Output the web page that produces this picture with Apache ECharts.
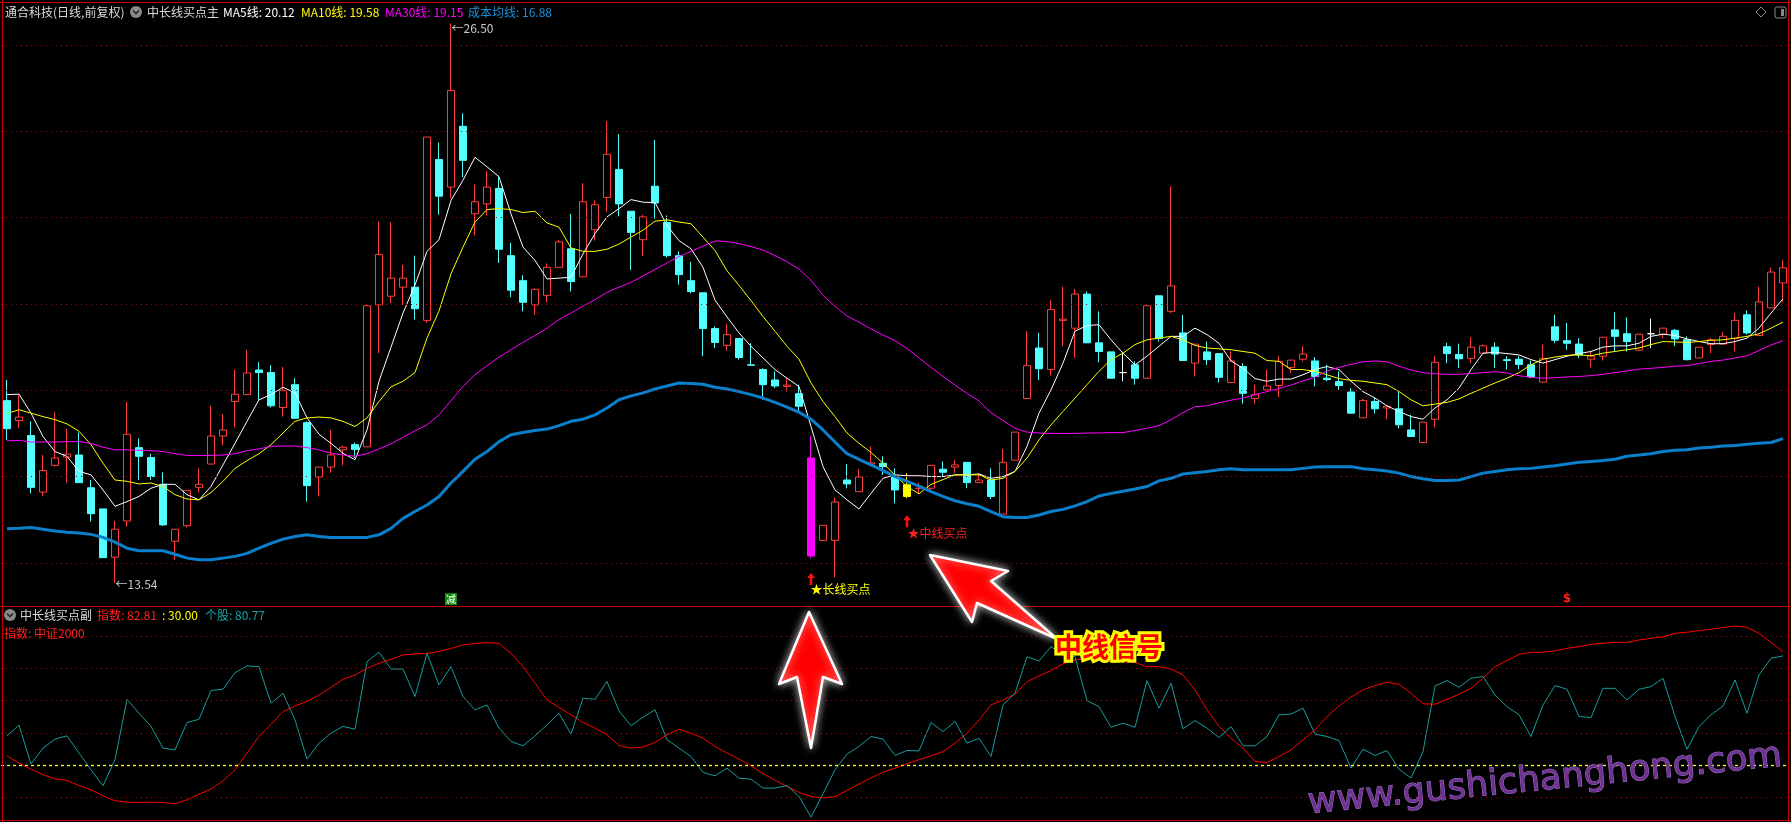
<!DOCTYPE html>
<html><head><meta charset="utf-8">
<script src="https://cdn.jsdelivr.net/npm/echarts@6/dist/echarts.min.js"></script>
<style>html,body{margin:0;padding:0;background:#000;overflow:hidden}#c{width:1791px;height:822px}</style>
</head><body><div id="c"></div><script>
const categories = ["1","2","3","4","5","6","7","8","9","10","11","12","13","14","15","16","17","18","19","20","21","22","23","24","25","26","27","28","29","30","31","32","33","34","35","36","37","38","39","40","41","42","43","44","45","46","47","48","49","50","51","52","53","54","55","56","57","58","59","60","61","62","63","64","65","66","67","68","69","70","71","72","73","74","75","76","77","78","79","80","81","82","83","84","85","86","87","88","89","90","91","92","93","94","95","96","97","98","99","100","101","102","103","104","105","106","107","108","109","110","111","112","113","114","115","116","117","118","119","120","121","122","123","124","125","126","127","128","129","130","131","132","133","134","135","136","137","138","139","140","141","142","143","144","145","146","147","148","149"];

const open = [
17.76,17.30,16.95,15.64,16.26,16.45,16.50,15.74,15.25,14.13,
14.97,16.67,16.44,15.82,14.50,14.86,15.75,16.29,16.94,17.74,
17.90,18.47,18.41,17.60,18.13,17.25,15.99,16.22,16.62,16.74,
16.69,19.98,20.18,20.39,20.39,19.62,23.35,22.71,24.12,22.09,
22.32,22.68,21.12,20.54,19.98,20.20,20.85,21.28,20.63,21.72,
22.47,23.12,22.15,21.49,22.73,21.89,21.12,20.54,20.26,19.43,
19.04,19.20,18.59,18.48,18.24,18.09,17.92,16.43,14.52,14.52,
15.92,15.65,16.29,16.31,16.00,15.81,15.72,15.73,16.17,16.22,
16.33,15.86,15.92,15.13,16.38,17.81,18.98,18.48,19.62,19.44,
20.23,19.10,18.89,18.41,18.59,18.28,20.19,19.83,19.33,18.63,
18.89,18.85,18.18,18.55,17.81,18.01,18.11,18.53,18.72,18.68,
18.28,18.20,17.96,17.36,17.74,17.59,17.57,17.08,16.79,17.33,
19.01,18.83,18.74,18.86,19.00,18.71,18.72,18.59,18.19,19.47,
19.15,19.07,18.72,18.79,19.40,19.31,18.93,19.31,19.30,19.39,
19.17,18.75,19.06,19.07,19.20,19.75,19.27,19.91,20.49];

const close = [
17.11,17.38,15.75,16.14,16.43,16.52,15.86,15.14,14.12,14.78,
16.98,16.47,16.00,14.88,14.78,15.68,15.82,16.94,17.08,17.91,
18.40,18.41,17.64,18.00,17.35,15.79,16.22,16.50,16.68,16.63,
19.96,21.15,20.60,20.60,19.89,23.87,22.50,24.95,23.33,22.37,
22.71,21.27,20.32,20.04,20.34,20.85,21.44,20.52,22.37,22.30,
23.47,22.32,21.66,22.02,22.34,21.12,20.68,20.29,19.43,19.11,
19.29,18.76,18.58,18.13,18.10,18.12,17.63,14.16,14.87,15.41,
15.83,15.99,16.32,16.23,15.69,15.54,15.73,16.26,16.10,16.27,
15.86,15.92,15.54,16.33,17.03,18.57,18.50,19.87,19.65,20.23,
19.10,18.90,18.28,18.41,18.28,19.96,19.20,20.42,18.69,19.07,
18.71,18.30,18.68,17.93,17.90,18.10,18.67,18.70,18.84,18.32,
18.25,18.11,17.47,17.76,17.57,17.63,17.20,16.93,17.26,18.65,
18.85,18.73,19.00,19.03,18.84,18.69,18.60,18.31,18.74,19.16,
19.09,18.82,18.79,19.23,19.25,19.13,19.30,19.31,19.44,19.19,
18.71,19.00,19.17,19.25,19.62,19.33,20.05,20.74,20.84];

const low = [
16.85,17.12,15.61,15.54,16.23,15.86,15.86,14.96,14.12,13.54,
14.84,15.92,15.92,14.86,14.07,14.82,15.63,16.29,16.72,17.14,
17.90,17.78,17.60,17.39,17.35,15.42,15.54,16.09,16.26,16.43,
16.69,18.86,20.02,19.98,19.64,19.56,22.07,22.45,22.94,21.59,
22.05,20.95,20.16,19.83,19.75,20.04,20.85,20.29,20.63,21.47,
22.13,22.03,20.79,21.11,21.98,21.08,20.45,20.25,18.79,18.98,
18.92,18.71,18.58,17.78,18.05,17.97,17.51,14.11,14.52,13.66,
15.73,15.65,16.27,16.04,15.38,15.50,15.61,15.65,16.00,16.08,
15.73,15.85,15.48,15.13,16.38,17.81,18.24,18.34,19.02,18.75,
19.10,18.65,18.28,18.21,18.13,18.28,19.13,19.79,18.69,18.32,
18.59,18.18,18.18,17.69,17.69,18.01,17.84,18.40,18.67,18.09,
18.21,18.01,17.46,17.36,17.46,17.33,17.12,16.93,16.79,17.14,
18.63,18.52,18.63,18.86,18.52,18.48,18.49,18.28,18.19,19.09,
18.94,18.75,18.53,18.69,18.90,18.90,18.93,18.98,19.21,19.02,
18.69,18.75,18.86,19.07,18.90,19.29,19.25,19.90,20.05];

const high = [
18.24,17.90,17.28,16.50,17.49,17.11,17.02,15.92,15.25,14.97,
17.73,16.88,16.53,16.10,14.78,15.69,16.19,17.64,17.45,18.48,
18.94,18.65,18.58,18.54,18.28,17.28,16.22,17.08,16.72,16.79,
19.96,21.91,21.90,20.91,21.12,23.87,23.74,26.50,24.42,22.77,
23.08,22.95,21.42,20.67,20.36,20.94,21.49,22.09,22.80,22.40,
24.24,23.94,22.15,22.07,23.80,22.05,21.22,20.98,20.26,19.48,
19.54,19.20,19.09,18.51,18.44,18.28,18.13,16.95,14.87,15.52,
16.29,16.17,16.70,16.47,16.19,16.08,15.86,16.26,16.35,16.39,
16.33,16.08,16.19,16.64,17.03,19.37,19.33,20.10,20.40,20.35,
20.29,19.83,18.89,18.86,18.67,19.96,20.19,22.73,19.75,19.07,
19.13,18.85,18.90,18.63,18.13,18.48,18.79,18.70,19.02,18.77,
18.59,18.44,18.05,17.80,17.82,17.63,17.97,17.43,17.26,18.80,
19.10,19.08,19.23,19.06,19.11,18.79,18.79,18.69,19.06,19.75,
19.56,19.21,18.90,19.23,19.81,19.69,19.30,19.66,19.44,19.42,
19.25,19.00,19.21,19.35,19.79,19.85,20.40,20.85,21.02];

const ma5 = [
17.90,17.91,17.47,16.93,16.58,16.47,16.12,16.04,15.69,15.31,
15.42,15.54,15.73,15.82,15.82,15.58,15.46,15.77,16.27,16.77,
17.28,17.78,17.90,18.07,17.94,17.36,16.98,16.77,16.54,16.39,
17.08,18.21,19.00,19.79,20.44,21.22,21.49,22.40,22.87,23.40,
23.18,22.95,22.09,21.32,21.01,20.58,20.60,20.62,21.16,21.63,
22.02,22.21,22.42,22.36,22.35,21.82,21.47,21.28,20.85,20.09,
19.70,19.33,19.02,18.75,18.48,18.28,18.09,17.16,16.23,15.69,
15.46,15.25,15.61,15.96,16.04,16.02,16.02,16.00,16.00,16.04,
16.04,16.06,15.96,16.00,16.12,16.70,17.47,18.01,18.63,19.37,
19.50,19.52,19.17,18.86,18.59,18.79,19.02,19.25,19.25,19.44,
19.29,19.09,18.68,18.51,18.27,18.21,18.26,18.26,18.36,18.48,
18.55,18.48,18.21,17.97,17.82,17.64,17.51,17.39,17.33,17.59,
17.78,18.05,18.48,18.86,18.88,18.85,18.82,18.71,18.63,18.71,
18.79,18.85,18.90,19.00,19.03,19.03,19.09,19.25,19.30,19.27,
19.19,19.13,19.08,19.08,19.13,19.21,19.44,19.79,20.12];

const ma10 = [
17.46,17.55,17.47,17.39,17.32,17.22,17.05,16.74,16.31,15.92,
15.89,15.83,15.85,15.77,15.58,15.48,15.46,15.63,15.89,16.19,
16.37,16.53,16.74,17.01,17.28,17.36,17.38,17.36,17.28,17.16,
17.36,17.74,18.08,18.21,18.41,19.21,19.84,20.70,21.32,21.90,
22.19,22.21,22.19,22.12,22.15,21.88,21.78,21.30,21.22,21.22,
21.27,21.39,21.55,21.71,21.92,21.95,21.90,21.86,21.55,21.24,
20.77,20.43,20.08,19.71,19.37,19.02,18.72,18.17,17.74,17.39,
17.01,16.77,16.56,16.31,16.03,15.77,15.60,15.82,15.93,16.04,
16.04,16.04,15.92,15.96,16.12,16.43,16.85,17.20,17.51,17.82,
18.13,18.44,18.71,18.86,19.06,19.17,19.21,19.25,19.17,19.04,
18.98,18.96,18.94,18.90,18.86,18.69,18.67,18.48,18.48,18.44,
18.36,18.27,18.23,18.21,18.17,18.13,17.97,17.78,17.64,17.68,
17.72,17.80,17.93,18.05,18.17,18.28,18.41,18.59,18.72,18.77,
18.81,18.82,18.80,18.86,18.90,18.94,18.98,19.06,19.13,19.12,
19.11,19.13,19.16,19.17,19.21,19.25,19.31,19.44,19.58];

const ma30 = [
16.83,16.84,16.80,16.80,16.80,16.81,16.81,16.77,16.68,16.62,
16.62,16.61,16.60,16.58,16.53,16.49,16.49,16.49,16.50,16.53,
16.60,16.64,16.70,16.71,16.71,16.67,16.62,16.54,16.50,16.47,
16.53,16.64,16.76,16.91,17.06,17.20,17.43,17.76,18.09,18.36,
18.57,18.77,18.94,19.11,19.27,19.44,19.64,19.79,19.95,20.10,
20.27,20.39,20.50,20.65,20.80,20.95,21.10,21.22,21.34,21.46,
21.45,21.40,21.33,21.25,21.12,20.98,20.81,20.55,20.20,19.95,
19.72,19.58,19.42,19.28,19.15,18.97,18.75,18.53,18.32,18.12,
17.93,17.75,17.48,17.30,17.12,17.03,17.01,17.00,17.00,17.00,
17.01,17.01,17.02,17.02,17.07,17.12,17.18,17.32,17.48,17.62,
17.64,17.71,17.77,17.82,17.90,17.97,18.04,18.12,18.22,18.30,
18.45,18.53,18.60,18.66,18.68,18.66,18.56,18.47,18.41,18.38,
18.37,18.37,18.39,18.41,18.43,18.40,18.34,18.30,18.28,18.29,
18.31,18.32,18.34,18.37,18.41,18.45,18.49,18.51,18.53,18.56,
18.57,18.62,18.67,18.70,18.75,18.80,18.92,19.05,19.15];

const costLine = [
14.79,14.80,14.82,14.78,14.74,14.71,14.69,14.66,14.59,14.48,
14.34,14.28,14.28,14.28,14.20,14.11,14.07,14.07,14.11,14.15,
14.22,14.34,14.45,14.55,14.61,14.65,14.61,14.59,14.59,14.59,
14.59,14.65,14.80,15.03,15.19,15.34,15.54,15.85,16.12,16.40,
16.58,16.81,16.97,17.02,17.07,17.10,17.18,17.28,17.33,17.43,
17.59,17.78,17.87,17.94,18.03,18.10,18.17,18.16,18.14,18.07,
18.03,17.97,17.90,17.82,17.72,17.61,17.49,17.33,17.08,16.80,
16.53,16.40,16.27,16.14,16.00,15.89,15.78,15.65,15.54,15.44,
15.37,15.31,15.19,15.07,15.05,15.05,15.11,15.19,15.24,15.32,
15.42,15.55,15.61,15.66,15.71,15.77,15.90,15.96,16.06,16.09,
16.12,16.16,16.18,16.16,16.16,16.16,16.16,16.16,16.19,16.22,
16.23,16.23,16.23,16.18,16.16,16.13,16.08,16.00,15.95,15.91,
15.91,15.92,16.00,16.08,16.12,16.16,16.18,16.19,16.22,16.25,
16.29,16.33,16.35,16.37,16.40,16.47,16.50,16.53,16.58,16.61,
16.62,16.66,16.68,16.71,16.72,16.75,16.77,16.79,16.88];

const indexLine = [
34.3,30.9,28.1,25.5,23.6,22.9,20.5,18.5,15.7,13.4,
12.8,12.6,12.8,12.6,12.0,13.9,16.5,18.8,22.7,27.8,
35.6,43.3,49.0,54.9,57.5,59.6,62.6,66.2,69.9,71.9,
75.0,77.4,79.2,81.2,81.7,82.0,82.8,84.3,85.9,86.6,
87.0,86.6,82.0,75.8,68.1,60.3,56.8,53.4,49.8,47.2,
44.1,39.1,37.9,38.4,40.5,44.1,46.7,44.8,42.5,38.7,
35.6,32.8,29.7,26.0,22.9,20.1,17.3,15.4,14.7,15.4,
18.2,21.2,24.0,26.7,28.6,30.6,32.5,34.3,36.3,40.2,
44.8,51.0,58.0,60.3,63.0,68.8,71.5,74.0,77.1,78.9,
79.7,78.9,78.1,78.1,77.7,75.8,75.8,74.6,72.0,65.0,
55.7,48.0,42.5,37.9,31.7,31.2,34.0,37.1,41.8,46.4,
52.6,57.5,61.6,65.0,67.0,68.5,67.6,63.4,58.5,58.3,
60.6,63.0,65.7,70.4,75.8,78.6,81.5,82.5,82.5,83.2,
84.3,85.1,86.2,86.7,87.1,87.1,88.2,89.0,89.7,91.3,
91.8,92.5,93.2,94.0,94.7,94.1,91.3,87.0,82.81];

const stockLine = [
43.6,48.6,30.5,37.9,42.1,43.6,35.6,27.8,20.4,32.5,
60.6,54.1,48.0,37.9,37.1,49.8,51.3,64.7,65.3,73.0,
76.1,75.8,58.8,63.4,51.0,32.8,40.2,44.9,48.0,46.7,
78.1,82.5,74.7,74.7,61.9,82.0,67.3,75.8,61.9,55.7,
58.0,47.2,41.0,39.0,43.6,48.7,54.1,44.4,61.1,60.6,
68.9,55.2,48.3,52.3,55.7,41.8,37.9,34.0,26.6,25.0,
28.6,23.9,23.5,19.3,19.3,20.5,15.4,5.8,16.7,27.8,
35.1,38.7,43.3,42.1,34.5,36.8,36.6,49.8,45.6,50.3,
40.2,42.5,34.0,58.0,63.4,80.4,78.4,85.1,81.2,80.4,
60.0,57.2,47.6,49.5,47.6,69.3,56.5,68.1,46.9,50.7,
47.2,42.8,47.9,39.0,39.0,43.3,53.4,53.7,56.5,44.4,
43.3,41.4,28.6,37.4,34.5,36.8,28.1,24.0,36.3,66.8,
69.3,66.2,70.4,71.2,62.6,57.2,53.4,43.3,58.0,67.0,
65.3,52.6,52.1,65.7,65.7,60.3,65.3,66.5,70.4,52.6,
37.4,47.9,53.4,57.5,69.6,54.1,71.9,79.7,80.77];

const priceGridLevels = [14,16,18,20,22,24,26];
const oscGridLevels = [15,45,60,75,90];
const oscThreshold = 30;
const highIdx = 37, lowIdx = 9;
const longBuyIdx = 67, midBuyIdx = 75, jianIdx = 37, dollarIdx = 130;
const bottomMarkLevel = 13.16;
const specialColors = {67:'#ff00ff', 75:'#ffff00', 93:'#ffffff', 137:'#ffffff'};

const F = '"Noto Sans CJK SC","Noto Sans",sans-serif';
const UP = '#ff3c3c', DOWN = '#54ffff', GRID_RED = '#a80000', BORDER = '#c80000';

const candleData = open.map((o, i) => {
  const v = [o, close[i], low[i], high[i]];
  const c = specialColors[i];
  return c ? {value: v, itemStyle: {color: c, color0: c, borderColor: c, borderColor0: c}} : v;
});

const arrowPath = 'path://M4,0 L8,5 L5.3,5 L5.3,12 L2.7,12 L2.7,5 L0,5 Z';
const hidden = {color: 'rgba(0,0,0,0)'};

const chart = echarts.init(document.getElementById('c'), null, {renderer: 'canvas'});

function lineSeries(name, data, color, width, xi) {
  return {type: 'line', name, data, xAxisIndex: xi, yAxisIndex: xi, symbol: 'none', showSymbol: false,
    silent: true, lineStyle: {color, width}, emphasis: {disabled: true}, z: 3};
}

const headerTop = [
  {x: 5, text: '通合科技(日线,前复权)', fill: '#d8d8d8'},
  {x: 147, text: '中长线买点主', fill: '#d8d8d8'},
  {x: 223, text: 'MA5线: ' + ma5[ma5.length - 1].toFixed(2), fill: '#ffffff'},
  {x: 301, text: 'MA10线: ' + ma10[ma10.length - 1].toFixed(2), fill: '#ffff00'},
  {x: 385, text: 'MA30线: ' + ma30[ma30.length - 1].toFixed(2), fill: '#ff00ff'},
  {x: 468, text: '成本均线: ' + costLine[costLine.length - 1].toFixed(2), fill: '#1e8fdc'}
];
const headerBottom = [
  {x: 20, text: '中长线买点副', fill: '#d8d8d8'},
  {x: 97, text: '指数: ' + indexLine[indexLine.length - 1].toFixed(2), fill: '#ff2020'},
  {x: 162, text: ': ' + oscThreshold.toFixed(2), fill: '#ffff00'},
  {x: 205, text: '个股: ' + stockLine[stockLine.length - 1].toFixed(2), fill: '#1aa3a3'}
];

function txt(x, y, text, fill, font, extra) {
  return Object.assign({type: 'text', x, y, silent: true, z: 100,
    style: Object.assign({text, fill, font: font || ('12px ' + F), align: 'left', verticalAlign: 'middle'}, extra || {})});
}
function hline(y, x1, x2) { return {type: 'line', silent: true, z: 90, shape: {x1, y1: y, x2, y2: y}, style: {stroke: BORDER, lineWidth: 1}}; }
function vline(x, y1, y2) { return {type: 'line', silent: true, z: 90, shape: {x1: x, y1, x2: x, y2}, style: {stroke: BORDER, lineWidth: 1}}; }
function icon(cx, cy) {
  return [
    {type: 'circle', silent: true, z: 100, shape: {cx, cy, r: 6}, style: {fill: '#8a8a8a'}},
    {type: 'polyline', silent: true, z: 101, shape: {points: [[cx - 3, cy - 1.5], [cx, cy + 1.5], [cx + 3, cy - 1.5]]}, style: {stroke: '#2a2a2a', lineWidth: 1.6, fill: null}}
  ];
}

const graphics = [].concat(
  [hline(2.5, 0, 1791), hline(606.5, 0, 1791), hline(820.5, 0, 1791), vline(2.5, 0, 822), vline(1788.5, 0, 822)],
  headerTop.map(h => txt(h.x, 12, h.text, h.fill)),
  icon(136, 12),
  headerBottom.map(h => txt(h.x, 615, h.text, h.fill)),
  icon(10, 615),
  [txt(4, 633, '指数: 中证2000', '#ff2020')],
  [
    {type: 'polygon', silent: true, z: 100, shape: {points: [[1761, 7], [1766, 12], [1761, 17], [1756, 12]]}, style: {stroke: '#8a8a8a', fill: null, lineWidth: 1}},
    {type: 'rect', silent: true, z: 100, shape: {x: 1775, y: 7, width: 11, height: 11, r: 2}, style: {stroke: '#8a8a8a', fill: null, lineWidth: 1}},
    {type: 'rect', silent: true, z: 100, shape: {x: 1781, y: 9, width: 3, height: 7}, style: {fill: '#8a8a8a'}}
  ],
  [
    {type: 'text', x: 1308, y: 804, rotation: 0.1, silent: true, z: 110,
      style: {text: 'www.gushichanghong.com', font: '35.5px "DejaVu Sans"', fill: '#6e3290', stroke: '#a070c8', lineWidth: 1, align: 'left', verticalAlign: 'middle'}},
    {type: 'polygon', silent: true, z: 120, shape: {points: [[809, 612], [842, 684], [823, 677], [811, 748], [797, 677], [779, 684]]},
      style: {fill: '#ff0000', stroke: '#ffffff', lineWidth: 2.5, lineJoin: 'round', shadowBlur: 8, shadowColor: 'rgba(255,255,255,0.7)'}},
    {type: 'polygon', silent: true, z: 120, shape: {points: [[930, 555], [1008, 571], [991, 581], [1057, 639], [977, 603], [972, 622]]},
      style: {fill: '#ff0000', stroke: '#ffffff', lineWidth: 2.5, lineJoin: 'round', shadowBlur: 8, shadowColor: 'rgba(255,255,255,0.7)'}},
    {type: 'text', x: 1109, y: 647, silent: true, z: 121,
      style: {text: '中线信号', font: 'bold 27px ' + F, fill: '#ffff00', stroke: '#ffff00', lineWidth: 6, align: 'center', verticalAlign: 'middle', shadowBlur: 6, shadowColor: 'rgba(255,255,120,0.8)'}},
    {type: 'text', x: 1109, y: 647, silent: true, z: 122,
      style: {text: '中线信号', font: 'bold 27px ' + F, fill: '#ff0000', align: 'center', verticalAlign: 'middle'}}
  ]
);

const option = {
  backgroundColor: '#000000',
  animation: false,
  grid: [
    {left: 1, top: 2, width: 1788, height: 604},
    {left: 1, top: 606, width: 1788, height: 215}
  ],
  xAxis: [
    {type: 'category', data: categories, gridIndex: 0, boundaryGap: true, show: false},
    {type: 'category', data: categories, gridIndex: 1, boundaryGap: true, show: false}
  ],
  yAxis: [
    {type: 'value', gridIndex: 0, min: 13, max: 27, show: false},
    {type: 'value', gridIndex: 1, min: 4, max: 104, show: false}
  ],
  series: [
    {
      type: 'candlestick', name: 'K', data: candleData, xAxisIndex: 0, yAxisIndex: 0, barWidth: 8, silent: true,
      itemStyle: {color: '#000000', color0: DOWN, borderColor: UP, borderColor0: DOWN, borderWidth: 1},
      emphasis: {disabled: true}, z: 2,
      markLine: {silent: true, symbol: ['none', 'none'], label: {show: false}, animation: false,
        lineStyle: {color: GRID_RED, type: [1, 4], width: 1},
        data: priceGridLevels.map(v => ({yAxis: v}))},
      markPoint: {silent: true, animation: false, data: [
        {coord: [categories[lowIdx], low[lowIdx]], symbol: 'rect', symbolSize: 1, itemStyle: hidden,
          label: {show: true, position: 'right', distance: 0, offset: [0, 2], formatter: '←' + low[lowIdx].toFixed(2), color: '#c8c8c8', fontSize: 12, fontFamily: F}},
        {coord: [categories[highIdx], high[highIdx]], symbol: 'rect', symbolSize: 1, itemStyle: hidden,
          label: {show: true, position: 'right', distance: 0, offset: [0, 5], formatter: '←' + high[highIdx].toFixed(2), color: '#c8c8c8', fontSize: 12, fontFamily: F}},
        {coord: [categories[longBuyIdx], low[longBuyIdx]], symbol: arrowPath, symbolSize: [8, 12], symbolOffset: [0, 21], itemStyle: {color: '#ff1010'}, label: {show: false}},
        {coord: [categories[longBuyIdx], low[longBuyIdx]], symbol: 'rect', symbolSize: 1, itemStyle: hidden,
          label: {show: true, position: 'right', distance: 0, offset: [-1, 31], formatter: '★长线买点', color: '#ffff00', fontSize: 12, fontFamily: F}},
        {coord: [categories[midBuyIdx], low[midBuyIdx]], symbol: arrowPath, symbolSize: [8, 12], symbolOffset: [0, 23], itemStyle: {color: '#ff1010'}, label: {show: false}},
        {coord: [categories[midBuyIdx], low[midBuyIdx]], symbol: 'rect', symbolSize: 1, itemStyle: hidden,
          label: {show: true, position: 'right', distance: 0, offset: [0, 35], formatter: '★中线买点', color: '#ff2020', fontSize: 12, fontFamily: F}},
        {coord: [categories[jianIdx], bottomMarkLevel], symbol: 'rect', symbolSize: [12, 12], itemStyle: {color: '#0a8a0a'},
          label: {show: true, position: 'inside', formatter: '减', color: '#ffffff', fontSize: 10, fontFamily: F}},
        {coord: [categories[dollarIdx], bottomMarkLevel], symbol: 'rect', symbolSize: 1, itemStyle: hidden,
          label: {show: true, position: 'inside', formatter: '$', color: '#ff2020', fontSize: 12, fontWeight: 'bold', fontFamily: 'DejaVu Sans'}}
      ]}
    },
    lineSeries('MA5', ma5, '#ffffff', 1, 0),
    lineSeries('MA10', ma10, '#ffff00', 1, 0),
    lineSeries('MA30', ma30, '#ff00ff', 1, 0),
    lineSeries('成本均线', costLine, '#0a80cc', 3, 0),
    Object.assign(lineSeries('指数', indexLine, '#ff0000', 1, 1), {
      markLine: {silent: true, symbol: ['none', 'none'], label: {show: false}, animation: false,
        lineStyle: {color: GRID_RED, type: [1, 4], width: 1},
        data: oscGridLevels.map(v => ({yAxis: v}))}
    }),
    Object.assign(lineSeries('个股', stockLine, '#169c9c', 1, 1), {
      markLine: {silent: true, symbol: ['none', 'none'], label: {show: false}, animation: false,
        lineStyle: {color: '#ffff00', type: [3, 3], width: 1.3, opacity: 1},
        data: [{yAxis: oscThreshold}]}
    })
  ],
  graphic: graphics
};
chart.setOption(option);
</script></body></html>
